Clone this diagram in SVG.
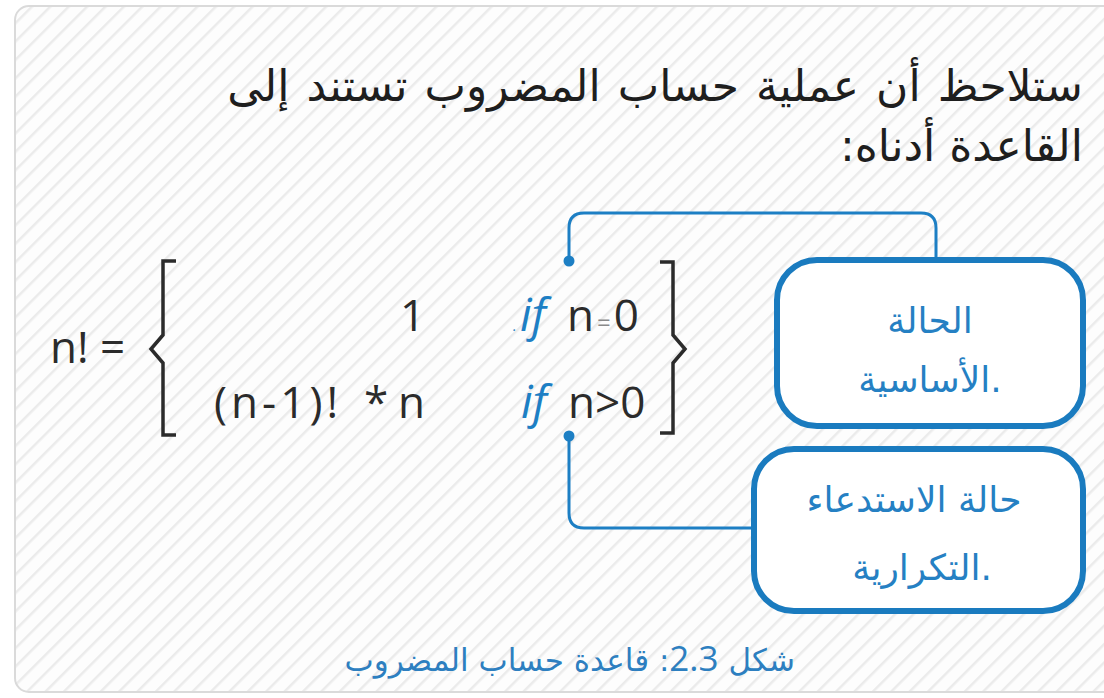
<svg xmlns="http://www.w3.org/2000/svg" width="1104" height="698" viewBox="0 0 1104 698">
  <defs>
    <pattern id="stripes" patternUnits="userSpaceOnUse" width="13" height="13" patternTransform="rotate(45)">
      <rect width="13" height="13" fill="#fdfdfd"/>
      <rect x="0" y="0" width="2.5" height="13" fill="#ebebeb"/>
    </pattern>
    <style>
      .ar { font-family: "DejaVu Sans", "Noto Sans", sans-serif; }
      .title { font-size: 44px; fill: #1e1e1e; }
      .math { font-family: "Open Sans", "Noto Sans", sans-serif; font-size: 44px; fill: #2b2b2b; }
      .if { font-family: "Open Sans", "Noto Sans", sans-serif; font-style: italic; fill: #1d7fc4; }
      .brace { fill: none; stroke: #2b2b2b; stroke-width: 3.5; stroke-linejoin: miter; }
      .box { fill: #ffffff; stroke: #1a7bbf; stroke-width: 6; }
      .boxtext { font-size: 36px; fill: #2580c3; }
      .conn { fill: none; stroke: #1d7fc4; stroke-width: 3; }
      .dot { fill: #1d7fc4; }
      .cap { font-size: 31px; fill: #2d7fc0; }
    </style>
  </defs>

  <rect x="0" y="0" width="1104" height="698" fill="#ffffff"/>
  <rect id="panel" x="15" y="6" width="1110" height="686" rx="14" fill="url(#stripes)" stroke="#dadada" stroke-width="2"/>

  <g id="title">
    <text class="ar title" x="1083" y="101" direction="rtl" text-anchor="start" word-spacing="3">ستلاحظ أن عملية حساب المضروب تستند إلى</text>
    <text class="ar title" x="1083" y="161" direction="rtl" text-anchor="start">القاعدة أدناه:</text>
  </g>

  <g id="formula">
    <text class="math" x="50" y="363" font-size="42">n! =</text>
    <path class="brace" d="M176,261 H163 V335 L151,349 L163,363 V435 H176"/>
    <text class="math" x="400" y="331">1</text>
    <text class="if" x="513" y="331" font-size="14">.</text>
    <text class="if" x="520" y="331" font-size="46">if</text>
    <text class="math" x="567" y="331">n<tspan font-size="24" fill="#8a8a8a" dx="3">=</tspan><tspan dx="3">0</tspan></text>
    <text class="math" x="214" y="418" textLength="124" lengthAdjust="spacing">(n-1)!</text>
    <text class="math" x="364" y="418">*</text>
    <text class="math" x="398" y="418">n</text>
    <text class="if" x="521" y="418" font-size="46">if</text>
    <text class="math" x="568" y="418">n&gt;0</text>
    <path class="brace" d="M660,262 H673 V335 L685,349 L673,363 V433 H660"/>
  </g>

  <g id="connectors">
    <path class="conn" d="M936,258 V228 Q936,213 921,213 H584 Q569,213 569,228 V261"/>
    <circle class="dot" cx="569" cy="261" r="5.5"/>
    <path class="conn" d="M569,436 V513 Q569,528 584,528 H752"/>
    <circle class="dot" cx="569" cy="436" r="5.5"/>
  </g>

  <g id="base-case">
    <rect class="box" x="777" y="260" width="306" height="166" rx="40"/>
    <text class="ar boxtext" x="930" y="333" text-anchor="middle">الحالة</text>
    <text class="ar boxtext" x="930" y="392" text-anchor="middle">الأساسية.</text>
  </g>

  <g id="recursive-case">
    <rect class="box" x="754" y="449" width="329" height="162" rx="40"/>
    <text class="ar boxtext" x="914" y="512" text-anchor="middle" font-size="38">حالة الاستدعاء</text>
    <text class="ar boxtext" x="922" y="580" text-anchor="middle" font-size="38">التكرارية.</text>
  </g>

  <g id="caption">
    <text class="ar cap" x="795" y="671" direction="rtl" text-anchor="start">شكل <tspan font-family="Open Sans, sans-serif" font-size="35">2.3</tspan>: قاعدة حساب المضروب</text>
  </g>
</svg>
